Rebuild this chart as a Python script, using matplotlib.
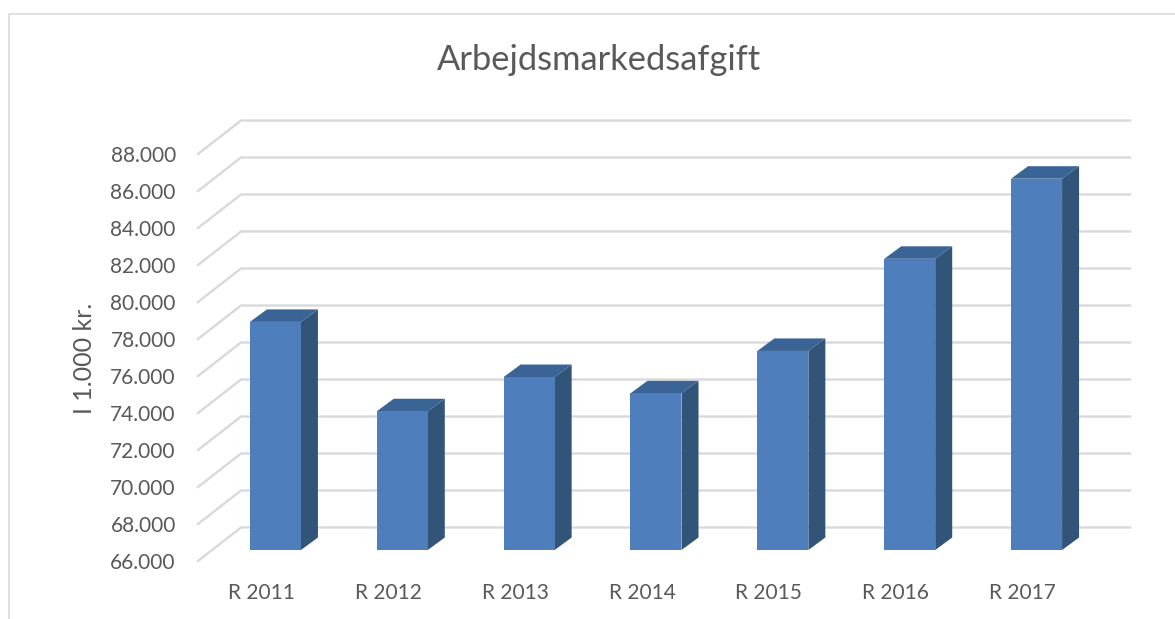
import numpy as np
import matplotlib.pyplot as plt
from matplotlib.lines import Line2D
from matplotlib.patches import Polygon

plt.rcParams['font.family'] = ['Lato', 'DejaVu Sans']

categories = ["R 2011", "R 2012", "R 2013", "R 2014", "R 2015", "R 2016", "R 2017"]
values = [78330, 73500, 75350, 74470, 76760, 81740, 86070]
y_ticks = [66000, 68000, 70000, 72000, 74000, 76000, 78000, 80000, 82000, 84000, 86000, 88000]

W, H = 1175, 619
fig = plt.figure(figsize=(W / 100, H / 100), dpi=100)

# forreste plan af diagrammet i pixels
left, right, bottom, top = 198, 1086, 561, 154
ax = fig.add_axes([left / W, 1 - bottom / H, (right - left) / W, (bottom - top) / H])
ax.set_xlim(-0.5, 6.5)
ax.set_ylim(66000, 88000)

# pixels -> data
px_x = 7 / (right - left)
px_y = 22000 / (bottom - top)

grid_col = "#D9D9D9"
text_col = "#595959"

# gitterlinjer: skraa stykke + vaeg
for v in y_ticks:
    ax.plot([-0.5, -0.5 + 43 * px_x, 6.5 + 44 * px_x],
            [v, v + 33.5 * px_y, v + 33.5 * px_y],
            color=grid_col, lw=1.7, clip_on=False, zorder=1, solid_joinstyle="miter")

# soejler med falsk 3D
bar_w = 51 * px_x
off_x, off_y = 14 * px_x, 11 * px_y
dep_x, dep_y = 17 * px_x, 12.5 * px_y
for i, v in enumerate(values):
    x0 = i - bar_w / 2 + off_x
    x1 = x0 + bar_w
    y0 = 66000 + off_y
    y1 = v + off_y
    ax.add_patch(Polygon([(x1, y0), (x1 + dep_x, y0 + dep_y), (x1 + dep_x, y1 + dep_y), (x1, y1)],
                         facecolor="#325479", edgecolor="none", clip_on=False, zorder=3))
    ax.add_patch(Polygon([(x0, y1), (x1, y1), (x1 + dep_x, y1 + dep_y), (x0 + dep_x, y1 + dep_y)],
                         facecolor="#3B6496", edgecolor="none", clip_on=False, zorder=3))
    ax.add_patch(Polygon([(x0, y0), (x1, y0), (x1, y1), (x0, y1)],
                         facecolor="#4E7FBC", edgecolor="none", clip_on=False, zorder=4))

for s in ax.spines.values():
    s.set_visible(False)
ax.patch.set_visible(False)

ax.set_xticks(range(len(categories)))
ax.set_xticklabels(categories, fontsize=15, color=text_col)
ax.set_yticks(y_ticks)
ax.set_yticklabels([f"{v:,}".replace(",", ".") for v in y_ticks], fontsize=15, color=text_col)
ax.tick_params(axis="both", length=0)
ax.tick_params(axis="x", pad=16)
ax.tick_params(axis="y", pad=16)

fig.text(598.5 / W, 1 - 60 / H, "Arbejdsmarkedsafgift", fontsize=24.8, color=text_col, ha="center", va="center")
fig.text(85 / W, 1 - 358 / H, "I 1.000 kr.", fontsize=18, color=text_col, rotation=90, ha="center", va="center")

# ramme
fig.add_artist(Line2D([9 / W, 9 / W, 1], [0, 1 - 14 / H, 1 - 14 / H], color="#DDDDDD", lw=1.3))

fig.savefig("out.png", dpi=100)
